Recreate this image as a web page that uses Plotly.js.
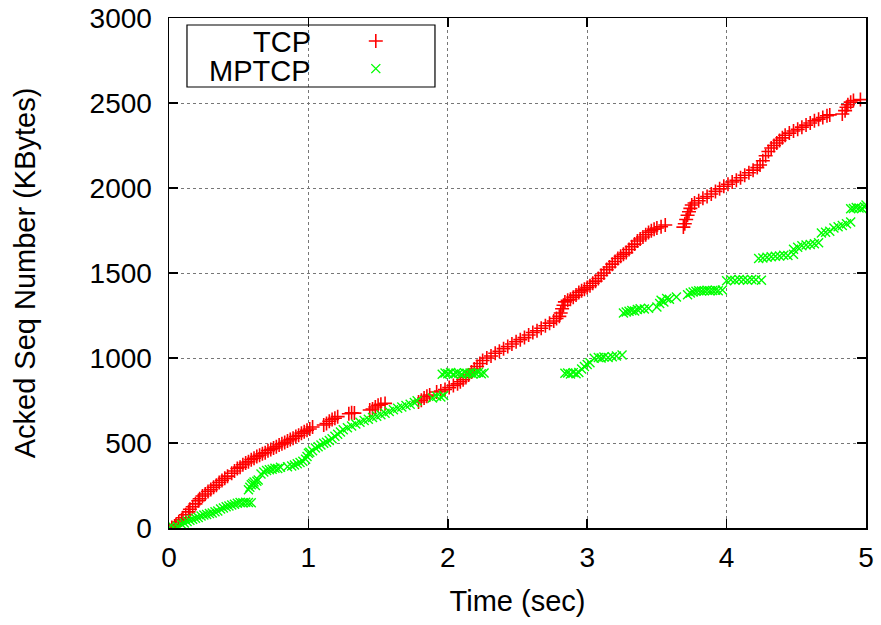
<!DOCTYPE html>
<html>
<head>
<meta charset="utf-8">
<script src="https://cdn.plot.ly/plotly-3.0.1.min.js"></script>
<style>html,body{margin:0;padding:0;background:#fff;}#chart{width:881px;height:625px;}</style>
</head>
<body>
<div id="chart"></div>
<script>
// ---- Data (time in sec, acked seq number in KBytes) ----
var seriesNames = ["TCP", "MPTCP"];
var xTickVals = [0, 1, 2, 3, 4, 5];
var yTickVals = [0, 500, 1000, 1500, 2000, 2500, 3000];

var tcpTime = [
 0.02,0.04,0.05,0.07,0.09,0.10,0.12,0.14,0.15,0.17,0.19,0.21,0.22,0.24,0.26,0.28,0.30,0.32,0.34,0.36,
 0.38,0.40,0.42,0.45,0.47,0.49,0.51,0.53,0.55,0.57,0.59,0.61,0.63,0.65,0.67,0.69,0.71,0.73,0.75,0.77,
 0.79,0.81,0.83,0.85,0.87,0.89,0.91,0.93,0.95,0.97,0.99,1.01,1.03,
 1.11,1.13,1.15,1.17,1.19,1.21,
 1.29,1.31,1.33,
 1.44,1.46,1.48,1.50,1.52,1.55,
 1.79,1.81,1.83,1.85,1.87,
 1.92,1.95,1.98,2.01,2.04,2.07,2.09,2.11,2.13,2.15,2.17,2.19,2.21,2.23,2.25,2.28,2.31,2.34,2.37,2.40,
 2.43,2.46,2.49,2.52,2.55,2.58,2.61,2.64,2.67,2.70,2.73,2.76,2.78,
 2.80,2.81,2.82,2.83,2.84,2.86,2.88,2.90,2.92,2.94,2.96,2.98,3.00,3.02,3.04,3.06,3.08,3.10,3.12,3.14,
 3.16,3.18,3.20,3.22,3.24,3.26,3.28,3.30,3.32,3.34,3.36,3.38,3.40,3.42,3.44,3.46,3.48,3.50,3.53,3.56,
 3.69,3.70,3.71,3.72,3.73,3.74,3.75,3.77,3.80,3.83,3.86,3.89,3.92,3.95,3.98,4.01,4.04,4.07,4.10,4.13,
 4.16,4.19,4.22,4.24,4.26,4.28,4.30,4.32,4.34,4.36,4.38,4.40,4.42,4.45,4.48,4.51,4.54,4.57,4.60,4.63,
 4.66,4.69,4.72,4.74,
 4.83,4.85,4.86,4.87,4.89,4.91,4.96
];
var tcpSeq = [
 3,12,20,35,48,60,78,95,110,125,142,160,172,188,200,215,226,240,252,268,
 280,292,305,322,335,350,358,372,382,390,402,410,420,428,437,443,455,462,470,478,
 488,495,503,512,520,528,538,545,558,566,575,582,594,
 606,615,628,638,646,655,
 672,678,676,
 694,700,712,722,728,733,
 741,752,765,775,782,
 800,806,815,826,838,848,860,872,885,900,918,935,950,968,985,1000,1012,1028,1040,1055,
 1068,1082,1096,1108,1120,1135,1150,1160,1175,1190,1205,1218,1232,
 1245,1265,1290,1310,1330,1340,1345,1358,1370,1385,1395,1405,1415,1425,1440,1452,1468,1485,1500,1520,
 1535,1552,1568,1585,1598,1610,1620,1638,1655,1670,1688,1700,1712,1725,1738,1748,1758,1765,1772,1782,
 1770,1790,1815,1840,1860,1880,1900,1912,1925,1940,1950,1965,1980,1995,2010,2022,2035,2045,2060,2075,
 2090,2105,2120,2135,2160,2190,2215,2235,2250,2265,2280,2295,2310,2323,2335,2345,2358,2370,2382,2395,
 2405,2415,2425,2430,
 2435,2455,2475,2490,2505,2515,2520
];

var mptcpTime = [
 0.00,0.03,0.06,0.09,0.11,0.13,0.15,0.17,0.19,0.21,0.23,0.25,0.27,0.29,0.31,0.33,0.35,0.37,0.39,0.41,
 0.43,0.45,0.47,0.49,0.51,0.53,0.55,0.57,0.59,
 0.57,0.58,0.59,0.60,0.61,0.62,0.63,0.64,
 0.66,0.68,0.70,0.72,0.74,0.76,0.78,0.80,
 0.85,0.88,0.90,0.92,0.94,0.96,0.98,0.99,1.00,1.01,1.03,1.05,1.07,1.09,1.11,1.13,1.15,1.17,1.19,1.21,
 1.23,1.25,1.28,1.31,1.34,1.37,1.40,1.43,1.46,1.49,1.52,1.55,1.58,1.61,1.64,1.67,1.70,1.73,1.76,1.78,
 1.89,1.92,1.95,1.97,
 1.96,1.98,2.00,2.02,2.04,2.06,2.08,2.10,2.12,2.14,2.16,2.18,2.20,2.22,2.24,2.26,
 2.84,2.86,2.88,2.90,2.92,2.94,2.96,2.98,3.00,3.02,3.05,3.08,3.10,3.12,3.15,3.18,3.21,3.25,
 3.26,3.28,3.30,3.32,3.34,3.36,3.38,3.41,3.44,
 3.50,3.52,3.53,3.55,3.57,3.59,3.64,
 3.72,3.74,3.76,3.78,3.80,3.82,3.84,3.86,3.88,3.90,3.92,3.94,3.97,
 4.00,4.03,4.06,4.09,4.12,4.15,4.18,4.21,4.25,
 4.23,4.26,4.29,4.32,4.35,4.38,4.41,4.44,4.48,
 4.48,4.51,4.54,4.57,4.60,4.63,4.66,
 4.68,4.71,4.74,4.77,4.80,4.83,4.86,4.89,
 4.89,4.91,4.93,4.95,4.97,4.99,5.00
];
var mptcpSeq = [
 2,5,10,22,30,38,45,52,58,62,70,76,80,85,88,95,100,112,118,125,
 130,135,140,145,150,148,152,150,148,
 225,240,255,262,270,250,275,282,
 318,330,338,342,345,352,350,358,
 360,365,370,378,385,392,405,420,440,445,455,470,478,488,498,505,515,525,540,552,
 565,578,590,600,612,622,632,640,650,658,666,675,685,695,705,712,720,728,738,748,
 765,775,770,780,
 905,912,908,915,905,912,910,905,914,908,912,906,910,915,908,912,
 910,912,906,914,908,915,935,950,962,972,998,1003,1000,1006,1003,1008,1012,1018,
 1265,1270,1275,1280,1276,1285,1290,1288,1292,
 1300,1320,1340,1330,1350,1345,1359,
 1372,1382,1388,1392,1395,1394,1396,1398,1395,1397,1398,1396,1400,
 1455,1460,1458,1462,1460,1458,1462,1460,1458,
 1585,1588,1592,1595,1598,1600,1605,1603,1610,
 1640,1652,1660,1665,1668,1672,1678,
 1735,1740,1745,1765,1772,1780,1790,1800,
 1878,1880,1885,1882,1880,1888,1900
];

// ---- Plot ----
var FONT = "Liberation Sans, Arial, Helvetica, sans-serif";
var FS_TICK = 28;
var FS_TEXT = 29;

var traces = [
 {x: tcpTime, y: tcpSeq, type: "scatter", mode: "markers", name: " ",
  marker: {symbol: "cross-thin", size: 10, color: "#ff0000", line: {color: "#ff0000", width: 1.6}}},
 {x: mptcpTime, y: mptcpSeq, type: "scatter", mode: "markers", name: " ",
  marker: {symbol: "x-thin", size: 9, color: "#00ff00", line: {color: "#00ff00", width: 1.4}}}
];

var axisCommon = {
 showline: true, linecolor: "#000", linewidth: 1.5, mirror: "ticks",
 ticks: "inside", ticklen: 9, tickwidth: 1.5, tickcolor: "#000",
 showgrid: true, gridcolor: "#777", griddash: "dot", gridwidth: 1,
 zeroline: false, tickfont: {family: FONT, size: FS_TICK, color: "#000"}
};

var layout = {
 width: 881, height: 625,
 margin: {l: 169, r: 15, t: 18, b: 97},
 paper_bgcolor: "#fff", plot_bgcolor: "#fff",
 font: {family: FONT, size: FS_TEXT, color: "#000"},
 xaxis: Object.assign({}, axisCommon, {range: [0, 5], tickvals: xTickVals, ticklabelstandoff: 4,
   title: {text: "Time (sec)", font: {family: FONT, size: FS_TEXT}, standoff: 18}}),
 yaxis: Object.assign({}, axisCommon, {range: [0, 3000], tickvals: yTickVals, ticklabelstandoff: 10,
   title: {text: "Acked Seq Number (KBytes)", font: {family: FONT, size: FS_TEXT}, standoff: 45}}),
 showlegend: true,
 legend: {x: 0.268, y: 0.992, xanchor: "left", yanchor: "top", bgcolor: "rgba(0,0,0,0)",
   borderwidth: 0, font: {family: FONT, size: 19}, tracegroupgap: 0, itemwidth: 30},
 shapes: [
  {type: "rect", xref: "paper", yref: "paper", x0: 0.0258, x1: 0.3816, y0: 0.8647, y1: 0.9863,
   line: {color: "#000", width: 1.2}, fillcolor: "rgba(255,255,255,0)"}
 ],
 annotations: [
  {xref: "paper", yref: "paper", x: 0.2066, y: 0.9529, xanchor: "right", yanchor: "middle",
   text: seriesNames[0], showarrow: false, font: {family: FONT, size: FS_TEXT, color: "#000"}},
  {xref: "paper", yref: "paper", x: 0.2066, y: 0.8961, xanchor: "right", yanchor: "middle",
   text: seriesNames[1], showarrow: false, font: {family: FONT, size: FS_TEXT, color: "#000"}}
 ]
};

Plotly.newPlot("chart", traces, layout, {displayModeBar: false, staticPlot: true});
</script>
</body>
</html>
